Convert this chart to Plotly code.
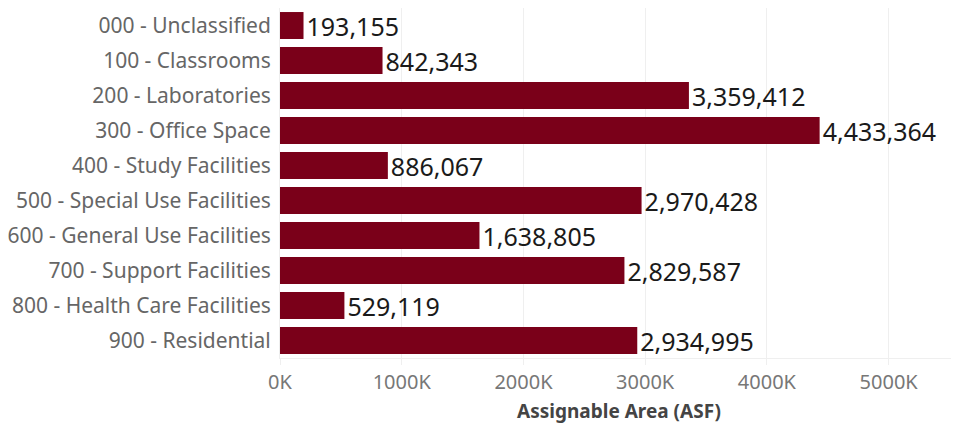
import plotly.graph_objects as go

categories = [
    "000 - Unclassified",
    "100 - Classrooms",
    "200 - Laboratories",
    "300 - Office Space",
    "400 - Study Facilities",
    "500 - Special Use Facilities",
    "600 - General Use Facilities",
    "700 - Support Facilities",
    "800 - Health Care Facilities",
    "900 - Residential",
]
values = [193155, 842343, 3359412, 4433364, 886067, 2970428, 1638805, 2829587, 529119, 2934995]
tick_vals = [0, 1000000, 2000000, 3000000, 4000000, 5000000]
tick_text = ["0K", "1000K", "2000K", "3000K", "4000K", "5000K"]

FONT = "'Noto Sans', 'Open Sans', sans-serif"

fig = go.Figure(
    go.Bar(
        x=values,
        y=categories,
        orientation="h",
        marker=dict(color="#7a0019", line=dict(width=0)),
        text=[f"{v:,}" for v in values],
        textposition="outside",
        constraintext="none",
        textangle=0,
        cliponaxis=False,
        textfont=dict(size=25, color="#1a1a1a", family=FONT),
    )
)

# The page body has an 8px margin; the figure is sized to fit the 959x427 window.
fig.update_layout(
    width=951,
    height=419,
    margin=dict(l=272, r=1, t=0, b=69, autoexpand=False),
    plot_bgcolor="white",
    paper_bgcolor="white",
    bargap=0.23,
    showlegend=False,
    font=dict(family=FONT),
)
fig.update_yaxes(
    autorange="reversed",
    tickfont=dict(size=21, color="#666666"),
    ticks="outside",
    ticklen=4,
    tickcolor="rgba(0,0,0,0)",
    showline=True,
    linecolor="#eeeeee",
    linewidth=1,
    showgrid=False,
)
fig.update_xaxes(
    range=[0, 5570000],
    tickvals=tick_vals,
    ticktext=tick_text,
    tickfont=dict(size=20, color="#777777"),
    showgrid=True,
    gridcolor="#efefef",
    gridwidth=1,
    zeroline=False,
    showline=True,
    linecolor="#efefef",
    ticks="outside",
    ticklen=6,
    tickcolor="#efefef",
    title=dict(text="<b>Assignable Area (ASF)</b>", font=dict(size=19, color="#444444"), standoff=10),
)

fig.write_html("out.html")
